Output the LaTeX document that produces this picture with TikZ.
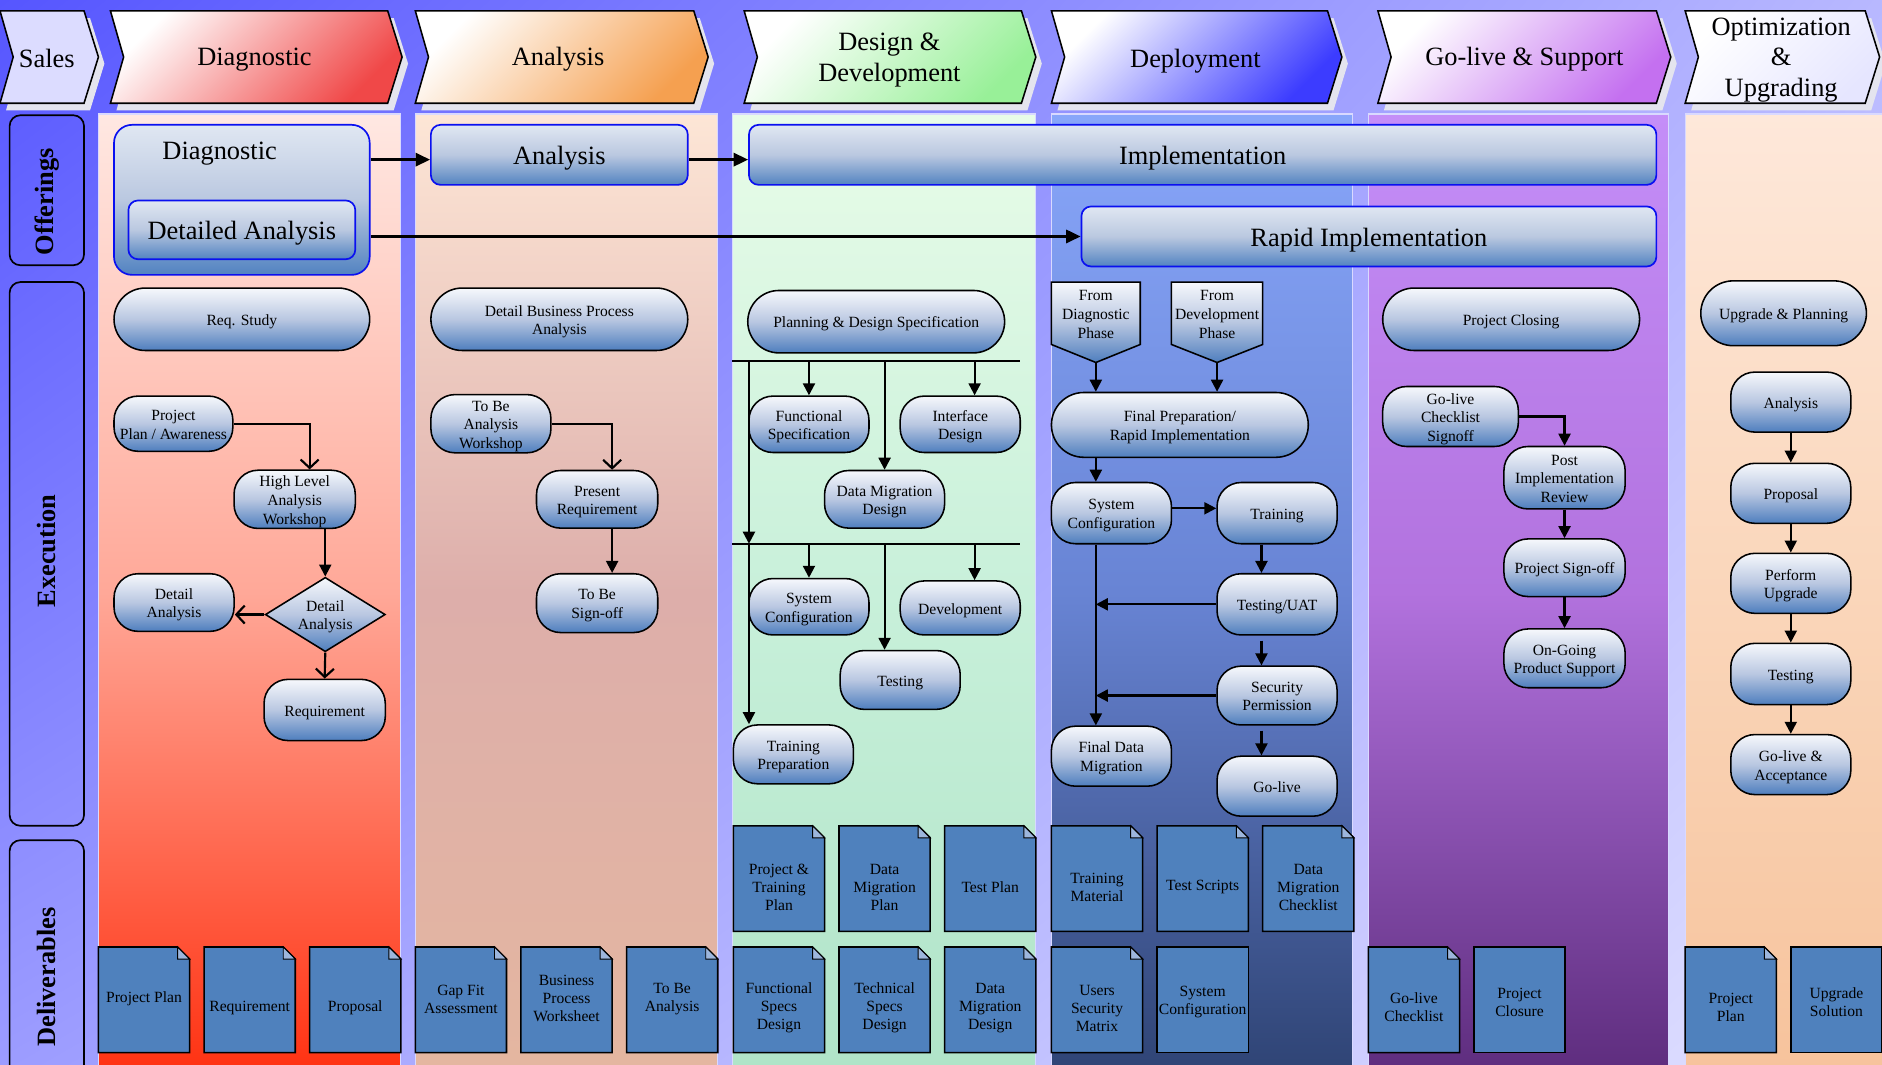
\documentclass[tikz,border=0pt]{standalone}
\usepackage{fontspec}
\setmainfont{Liberation Serif}
\usetikzlibrary{arrows.meta,shapes.geometric,shadings}
\definecolor{bgUL}{HTML}{5656FF}
\definecolor{bgUR}{HTML}{B8B8FF}
\definecolor{bgLL}{HTML}{9C9CFF}
\definecolor{bgLR}{HTML}{E2E2FF}
\definecolor{pilltop}{HTML}{F6F8FC}
\definecolor{pillmid}{HTML}{B9C7E1}
\definecolor{pillbot}{HTML}{4E7EBE}
\definecolor{offtop}{HTML}{E0E7F2}
\definecolor{offmid}{HTML}{BAC8E0}
\definecolor{offbot}{HTML}{5283C1}
\definecolor{offline}{HTML}{0A10F0}
\definecolor{docblue}{HTML}{4F81BD}
\definecolor{docfoldc}{HTML}{9DB6DC}
\definecolor{shadowc}{HTML}{E4E4EE}
\definecolor{cSales}{HTML}{DCDCFF}
\definecolor{cDiag}{HTML}{F04848}
\definecolor{cAna}{HTML}{F5A050}
\definecolor{cDes}{HTML}{98F098}
\definecolor{cDep}{HTML}{3C3CFF}
\definecolor{cGo}{HTML}{C470F0}
\definecolor{cOpt}{HTML}{E6E6FF}
\definecolor{dgT}{HTML}{FFE8E2}
\definecolor{dgM}{HTML}{FFA898}
\definecolor{dgB}{HTML}{FF3212}
\definecolor{anT}{HTML}{FDE6D6}
\definecolor{anM}{HTML}{DDAEAA}
\definecolor{anB}{HTML}{E4B6A0}
\definecolor{deT}{HTML}{E8FCE8}
\definecolor{deM}{HTML}{C8F0DA}
\definecolor{deB}{HTML}{B0E4C8}
\definecolor{dpT}{HTML}{88A6FA}
\definecolor{dpM}{HTML}{6884D4}
\definecolor{dpB}{HTML}{2F4475}
\definecolor{goT}{HTML}{C48EF8}
\definecolor{goM}{HTML}{B272DE}
\definecolor{goB}{HTML}{5E2D7E}
\definecolor{opT}{HTML}{FEE8DA}
\definecolor{opM}{HTML}{FAD6BA}
\definecolor{opB}{HTML}{F7C39C}
\newcommand\fhead{\fontsize{22}{25.5}\selectfont}
\newcommand\foff{\fontsize{22}{26}\selectfont}
\newcommand\fexe{\fontsize{13}{15.5}\selectfont}
\newcommand\fdoc{\fontsize{13}{15}\selectfont}
\newcommand\frow{\fontsize{22}{26}\selectfont\bfseries}
\newcommand\tx[2][2pt]{\raisebox{-#1}[\height][\depth]{\begin{tabular}{@{}c@{}}#2\end{tabular}}}
\newcommand\chev[3]{%
  \fill[shadowc] (#1+5,15) -- (#2-7,15) -- (#2+5,53) -- (#2-7,92) -- (#1+5,92) -- (#1+16,53) -- cycle;
  \path[draw=black, line width=1.3pt, #3] (#1,9) -- (#2-12,9) -- (#2,47.5) -- (#2-12,86) -- (#1,86) -- (#1+11,47.5) -- cycle;}
\newcommand\docF[5]{%
  \path[docshape] (#2,#3+88) -- (#2,#3) -- (#2+66,#3) -- (#2+76,#3+10) -- (#2+76,#3+88) -- cycle;
  \path[docfold] (#2+66,#3) -- (#2+66,#3+10) -- (#2+76,#3+10) -- cycle;
  \node[doctext] (#1) at (#2+38,#3+46+#4) {#5};}
\newcommand\docP[5]{%
  \path[docshape] (#2,#3) rectangle (#2+76,#3+88);
  \node[doctext] (#1) at (#2+38,#3+46+#4) {#5};}
\begin{document}
\begin{tikzpicture}[x=1pt,y=-1pt,
  sz/.style 2 args={minimum width=#1pt, minimum height=#2pt},
  pill/.style={draw=black, line width=1.3pt, rounded corners=#1, top color=pilltop, bottom color=pillbot, middle color=pillmid, font=\fexe, inner sep=1pt},
  pill/.default=20pt,
  pillshape/.style={draw=black, line width=1.3pt, top color=pilltop, bottom color=pillbot, middle color=pillmid},
  exetext/.style={align=center, font=\fexe, inner sep=0pt},
  offer/.style={draw=offline, line width=1.4pt, rounded corners=8pt, top color=offtop, bottom color=offbot, middle color=offmid, font=\foff, inner sep=0pt},
  headtext/.style={align=center, font=\fhead, inner sep=0pt},
  rowbox/.style={draw=black, line width=1.4pt, rounded corners=9pt},
  rowlab/.style={font=\frow, rotate=90, inner sep=0pt},
  colbox/.style={draw=white!85!blue, line width=1pt},
  docshape/.style={draw=black, line width=1.3pt, fill=docblue},
  docfold/.style={draw=black, line width=0.8pt, fill=docfoldc},
  doctext/.style={align=center, font=\fdoc, inner sep=0pt},
  arr/.style={draw=black, line width=1.8pt, -{Triangle[length=10pt,width=10pt]}},
  arro/.style={draw=black, line width=1.8pt, -{Straight Barb[length=7pt,width=15pt]}},
  offarr/.style={draw=black, line width=2pt, -{Triangle[length=12pt,width=11pt]}},
  bus/.style={draw=black, line width=1.8pt},
]
\useasboundingbox (0,0) rectangle (1568,887);
% background
\path[upper left=bgUL, upper right=bgUR, lower left=bgLL, lower right=bgLR] (0,0) rectangle (1568,887);
% columns
\path[colbox, top color=dgT, bottom color=dgB, middle color=dgM] (82,95) rectangle (334,892);
\path[colbox, top color=anT, bottom color=anB, middle color=anM] (346,95) rectangle (598,892);
\path[colbox, top color=deT, bottom color=deB, middle color=deM] (610,95) rectangle (863,892);
\path[colbox, top color=dpT, bottom color=dpB, middle color=dpM] (876,95) rectangle (1127,892);
\path[colbox, top color=goT, bottom color=goB, middle color=goM] (1140,95) rectangle (1390,892);
\path[colbox, top color=opT, bottom color=opB, middle color=opM] (1404,95) rectangle (1572,892);
% header chevrons
\chev{0}{82}{fill=cSales}
\chev{92}{335}{top color=white, bottom color=cDiag, shading angle=45}
\chev{346}{590}{top color=white, bottom color=cAna, shading angle=45}
\chev{620}{863}{top color=white, bottom color=cDes, shading angle=45}
\chev{876}{1118}{top color=white, bottom color=cDep, shading angle=45}
\chev{1148}{1392}{top color=white, bottom color=cGo, shading angle=45}
\chev{1404}{1566}{top color=white, bottom color=cOpt, shading angle=45}
\node[headtext] (hsales) at (39,49) {Sales};
\node[headtext] (hdiag) at (212,50) {Diagnostic};
\node[headtext] (hana) at (465,49) {Analysis};
\node[headtext] (hdes) at (741,50) {Design \&\\Development};
\node[headtext] (hdep) at (996,51) {Deployment};
\node[headtext] (hgo) at (1270,49) {Go-live \& Support};
\node[headtext] (hopt) at (1484,50) {Optimization\\\&\\Upgrading};
% row labels
\draw[rowbox] (8,96) rectangle (70,221);
\draw[rowbox] (8,235) rectangle (70,688);
\draw[rowbox] (8,700) rectangle (70,900);
\node[rowlab] (loff) at (39,168) {Offerings};
\node[rowlab] (lexe) at (39,459) {Execution};
\node[rowlab] (ldel) at (39,814) {Deliverables};
% offerings
\node[offer, rounded corners=15pt, sz={213}{125}] (odiag) at (201.5,166.5) {};
\node[font=\foff, inner sep=0pt] (odiagt) at (183,128) {Diagnostic};
\node[offer, sz={189}{49}] (odet) at (201.5,191.5) {\tx[3pt]{Detailed Analysis}};
\node[offer, sz={214}{50}] (offana) at (466,129) {\tx[3pt]{Analysis}};
\node[offer, sz={756}{50}] (oimpl) at (1002,129) {\tx[3pt]{Implementation}};
\node[offer, sz={479}{50}] (orapid) at (1140.5,197) {\tx[3pt]{Rapid Implementation}};
\draw[offarr] ([yshift=-4pt]odiag.east |- offana.west) -- ([yshift=-4pt]offana.west);
\draw[offarr] ([yshift=-4pt]offana.east) -- ([yshift=-4pt]oimpl.west);
\draw[offarr] (odiag.east |- orapid.west) -- (orapid.west);
% guide coordinates
\coordinate (gx258) at (258,0);
\coordinate (gx271) at (271,0);
\coordinate (gx510) at (510,0);
\coordinate (gx624) at (624,0);
\coordinate (gx674) at (674,0);
\coordinate (gx737) at (737,0);
\coordinate (gx812) at (812,0);
\coordinate (gx913) at (913,0);
\coordinate (gx1051) at (1051,0);
% Diagnostic execution
\node[pill=26pt, sz={213}{52}] (reqst) at (201.5,266) {\tx{Req. Study}};
\node[pill, sz={99}{46}] (ppa) at (144.5,353) {\tx{Project\\Plan / Awareness}};
\node[pill, sz={101}{48}] (hlaw) at (245.5,416) {\tx{High Level\\Analysis\\Workshop}};
\node[diamond, aspect=1.6, draw=black, line width=1.3pt, top color=pilltop, bottom color=pillbot, middle color=pillmid, sz={100}{62}, inner sep=0pt, font=\fexe] (dd) at (271,512) {\tx{Detail\\Analysis}};
\node[pill, sz={100}{48}] (detana) at (145,502) {\tx{Detail\\Analysis}};
\node[pill, sz={101}{51}] (reqm) at (270.5,591.5) {\tx{Requirement}};
\draw[arro] (ppa.east) -| (hlaw.north -| gx258);
\draw[arr] (hlaw.south -| gx271) -- (dd.north);
\draw[arro] (dd.west) -- (dd.west -| detana.east);
\draw[arro] (dd.south) -- (reqm.north);
% Analysis execution
\node[pill=26pt, sz={214}{52}] (dbpa) at (466,266) {\tx{Detail Business Process\\Analysis}};
\node[pill, sz={100}{46}] (tbaw) at (409,353) {\tx{To Be\\Analysis\\Workshop}};
\node[pill, sz={101}{48}] (presreq) at (497.5,416) {\tx{Present\\Requirement}};
\node[pill, sz={101}{49}] (tbso) at (497.5,502.5) {\tx{To Be\\Sign-off}};
\draw[arro] (tbaw.east) -| (presreq.north -| gx510);
\draw[arr] (presreq.south -| gx510) -- (tbso.north -| gx510);
% Design execution
\node[pill=26pt, sz={214}{52}] (pds) at (730,268) {\tx{Planning \& Design Specification}};
\node[pill, sz={100}{47}] (fspec) at (674,353.5) {\tx{Functional\\Specification}};
\node[pill, sz={100}{47}] (idesign) at (800,353.5) {\tx{Interface\\Design}};
\node[pill, sz={100}{48}] (dmd) at (737,416) {\tx{Data Migration\\Design}};
\node[pill, sz={100}{47}] (sysconf) at (674,505.5) {\tx{System\\Configuration}};
\node[pill, sz={100}{45}] (dev) at (800,506.5) {\tx{Development}};
\node[pill, sz={100}{49}] (testing) at (750,566.5) {\tx{Testing}};
\node[pill, sz={100}{49}] (trprep) at (661,628.5) {\tx{Training\\Preparation}};
\coordinate (b1L) at (610,301);
\coordinate (b1R) at (850,301);
\coordinate (b2L) at (610,453);
\coordinate (b2R) at (850,453);
\draw[bus] (b1L) -- (b1R);
\draw[bus] (b2L) -- (b2R);
\draw[arr] (b1L -| gx674) -- (fspec.north -| gx674);
\draw[arr] (b1L -| gx737) -- (dmd.north -| gx737);
\draw[arr] (b1L -| gx812) -- (idesign.north -| gx812);
\draw[arr] (b1L -| gx624) -- (b2L -| gx624);
\draw[arr] (b2L -| gx624) -- (trprep.north -| gx624);
\draw[arr] (b2L -| gx674) -- (sysconf.north -| gx674);
\draw[arr] (b2L -| gx737) -- (testing.north -| gx737);
\draw[arr] (b2L -| gx812) -- (dev.north -| gx812);
% Deployment execution
\path[pillshape] (876,235) -- (950,235) -- (950,287) -- (913,302) -- (876,287) -- cycle;
\node[exetext] (fdp) at (913,262) {From\\Diagnostic\\Phase};
\coordinate (fdptip) at (913,302);
\path[pillshape] (976,235) -- (1052,235) -- (1052,287) -- (1014,302) -- (976,287) -- cycle;
\node[exetext] (fdv) at (1014,262) {From\\Development\\Phase};
\coordinate (fdvtip) at (1014,302);
\node[pill=27pt, sz={214}{54}] (fprep) at (983,354) {\tx{Final Preparation/\\Rapid Implementation}};
\node[pill, sz={100}{51}] (dsys) at (926,427.5) {\tx{System\\Configuration}};
\node[pill, sz={100}{51}] (dtrain) at (1064,427.5) {\tx{Training}};
\node[pill, sz={100}{51}] (duat) at (1064,503.5) {\tx{Testing/UAT}};
\node[pill, sz={100}{49}] (dsec) at (1064,579.5) {\tx{Security\\Permission}};
\node[pill, sz={100}{50}] (dgolive) at (1064,655) {\tx{Go-live}};
\node[pill, sz={100}{50}] (dfdm) at (926,630) {\tx{Final Data\\Migration}};
\draw[arr] (fdptip) -- (fprep.north -| fdptip);
\draw[arr] (fdvtip) -- (fprep.north -| fdvtip);
\draw[arr] (fprep.south -| gx913) -- (dsys.north -| gx913);
\draw[arr] ([yshift=4pt]dsys.east) -- ([yshift=4pt]dtrain.west);
\draw[arr] (dtrain.south -| gx1051) -- (duat.north -| gx1051);
\draw[arr] (duat.west) -- (duat.west -| gx913);
\draw[arr] ([yshift=-4pt]duat.south -| gx1051) -- (dsec.north -| gx1051);
\draw[arr] (dsec.west) -- (dsec.west -| gx913);
\draw[arr] ([yshift=-4pt]dsec.south -| gx1051) -- (dgolive.north -| gx1051);
\draw[arr] (dsys.south -| gx913) -- (dfdm.north -| gx913);
% Go-live execution
\node[pill=26pt, sz={214}{52}] (pclose) at (1259,266) {\tx{Project Closing}};
\node[pill, sz={113}{50}] (glcs) at (1208.5,347) {\tx{Go-live\\Checklist\\Signoff}};
\node[pill, sz={101}{52}] (pir) at (1303.5,398) {\tx{Post\\Implementation\\Review}};
\node[pill, sz={101}{48}] (psign) at (1303.5,473) {\tx{Project Sign-off}};
\node[pill, sz={101}{49}] (ogps) at (1303.5,548.5) {\tx{On-Going\\Product Support}};
\draw[arr] (glcs.east) -| (pir.north);
\draw[arr] (pir.south) -- (psign.north);
\draw[arr] (psign.south) -- (ogps.north);
% Optimization execution
\node[pill=27pt, sz={138}{54}] (upl) at (1486,261) {\tx{Upgrade \& Planning}};
\node[pill, sz={100}{50}] (oana) at (1492,335) {\tx{Analysis}};
\node[pill, sz={100}{50}] (oprop) at (1492,411) {\tx{Proposal}};
\node[pill, sz={100}{50}] (operf) at (1492,486) {\tx{Perform\\Upgrade}};
\node[pill, sz={100}{51}] (otest) at (1492,561.5) {\tx{Testing}};
\node[pill, sz={100}{50}] (ogla) at (1492,637) {\tx{Go-live \&\\Acceptance}};
\draw[arr] (oana.south) -- (oprop.north);
\draw[arr] (oprop.south) -- (operf.north);
\draw[arr] (operf.south) -- (otest.north);
\draw[arr] (otest.south) -- (ogla.north);
% Deliverables row 1
\docF{dptp}{611}{688}{5}{Project \&\\Training\\Plan}
\docF{ddmp}{699}{688}{5}{Data\\Migration\\Plan}
\docF{dtp}{787}{688}{5}{Test Plan}
\docF{dtm}{876}{688}{5}{Training\\Material}
\docF{dts}{964}{688}{5}{Test Scripts}
\docF{ddmc}{1052}{688}{5}{Data\\Migration\\Checklist}
% Deliverables row 2
\docF{dpp}{82}{789}{-3}{Project Plan}
\docF{dreq}{170}{789}{5}{Requirement}
\docF{dprop}{258}{789}{5}{Proposal}
\docF{dgfa}{346}{789}{-2.5}{Gap Fit\\Assessment}
\docF{dbpw}{434}{789}{-3}{Business\\Process\\Worksheet}
\docF{dtba}{522}{789}{-2.5}{To Be\\Analysis}
\docF{dfsd}{611}{789}{5}{Functional\\Specs\\Design}
\docF{dtsd}{699}{789}{5}{Technical\\Specs\\Design}
\docF{ddmd}{787}{789}{5}{Data\\Migration\\Design}
\docF{dusm}{876}{789}{5}{Users\\Security\\Matrix}
\docP{dsc}{964}{789}{0}{System\\Configuration}
\docF{dglc}{1140}{789}{4}{Go-live\\Checklist}
\docP{dpc}{1228}{789}{0}{Project\\Closure}
\docF{dopp}{1404}{789}{4}{Project\\Plan}
\docP{dus}{1492}{789}{0}{Upgrade\\Solution}
\end{tikzpicture}
\end{document}
